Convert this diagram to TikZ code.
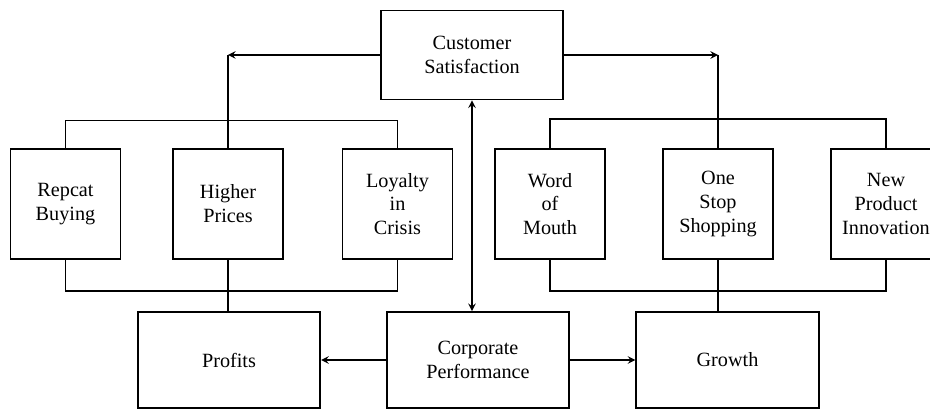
\documentclass[tikz,border=0pt]{standalone}
\usepackage{fontspec}
\setmainfont{Liberation Serif}
\begin{document}
\begin{tikzpicture}[>=stealth,
    box/.style={draw, line width=1pt, align=center, minimum width=2.2cm, minimum height=2.2cm,
                font=\fontsize{11.5}{13.6}\selectfont},
    widebox/.style={box, minimum width=3.65cm, minimum height=1.92cm},
    link/.style={line width=0.9pt}]
    \useasboundingbox (0,0) rectangle (18.6,8.2);

    % Topo
    \node[widebox, minimum height=1.78cm] (cs) at (9.44,7.1) {Customer\\Satisfaction};

    % Fila do meio
    \node[box] (rb)  at (1.31,4.12)  {Repcat\\Buying};
    \node[box] (hp)  at (4.56,4.12)  {Higher\\Prices};
    \node[box] (lic) at (7.95,4.12)  {Loyalty\\in\\Crisis};
    \node[box] (wm)  at (11.0,4.12)  {Word\\of\\Mouth};
    \node[box] (os)  at (14.36,4.12) {One\\Stop\\Shopping};
    \node[box] (np)  at (17.72,4.12) {New\\Product\\Innovation};

    % Fila de baixo
    \node[widebox] (pr) at (4.58,1.0)  {Profits};
    \node[widebox] (cp) at (9.56,1.0)  {Corporate\\Performance};
    \node[widebox] (gr) at (14.55,1.0) {Growth};

    % Lado esquerdo
    \draw[->, link] (cs.west) -- (cs.west -| hp.north) coordinate (lc);
    \draw[link] (lc) -- (hp.north);
    \draw[link] (rb.north) -- ++(0,0.55) -| (lic.north);
    \draw[link] (rb.south) -- ++(0,-0.62) -| (lic.south);
    \draw[link] (hp.south) -- (hp.south |- pr.north);

    % Lado direito
    \draw[->, link] (cs.east) -- (cs.east -| os.north) coordinate (rc);
    \draw[link] (rc) -- (os.north);
    \draw[link] (wm.north) -- ++(0,0.58) -| (np.north);
    \draw[link] (wm.south) -- ++(0,-0.62) -| (np.south);
    \draw[link] (os.south) -- (os.south |- gr.north);

    % Desempenho
    \draw[<->, link] (cs.south) -- (cs.south |- cp.north);
    \draw[->, link] (cp.west) -- (pr.east);
    \draw[->, link] (cp.east) -- (gr.west);
\end{tikzpicture}
\end{document}
